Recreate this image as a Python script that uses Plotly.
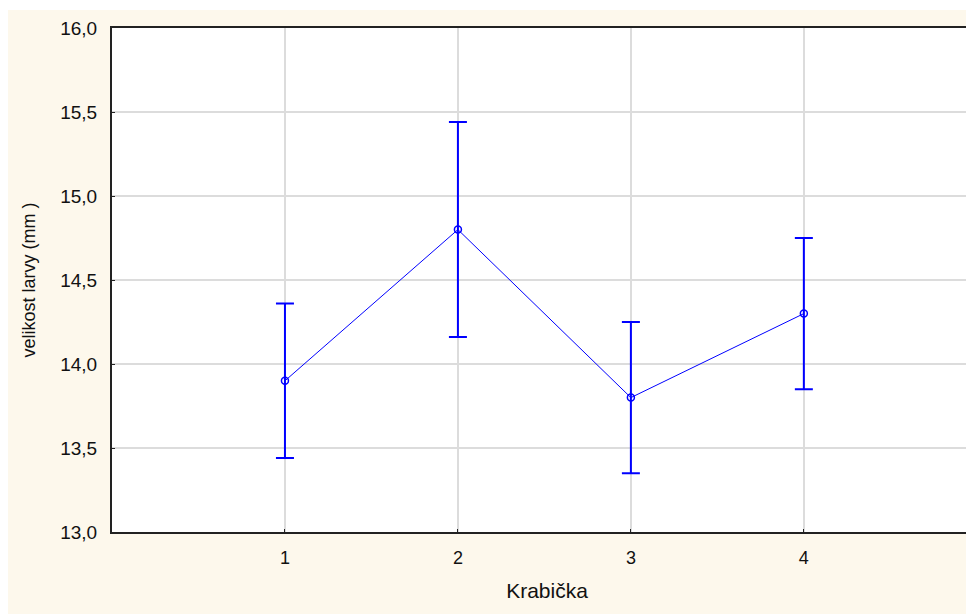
import plotly.graph_objects as go

categories = [1, 2, 3, 4]
means = [13.90, 14.80, 13.80, 14.30]
upper = [14.36, 15.44, 14.25, 14.75]
lower = [13.44, 14.16, 13.35, 13.85]
y_ticks = [13.0, 13.5, 14.0, 14.5, 15.0, 15.5, 16.0]
y_tick_labels = ["13,0", "13,5", "14,0", "14,5", "15,0", "15,5", "16,0"]
x_title = "Krabička"
y_title = "velikost larvy (mm )"

err_plus = [u - m for u, m in zip(upper, means)]
err_minus = [m - l for m, l in zip(means, lower)]

BLUE = "#0000FF"
CREAM = "#FDF8EC"

fig = go.Figure()
fig.add_trace(go.Scatter(
    x=categories, y=means, mode="lines+markers",
    line=dict(color=BLUE, width=1),
    marker=dict(symbol="circle-open", size=7, color=BLUE, line=dict(width=1.5, color=BLUE)),
    error_y=dict(type="data", symmetric=False, array=err_plus, arrayminus=err_minus,
                 color=BLUE, thickness=2, width=9),
    showlegend=False,
))

# page body adds an 8px offset; margins compensate so the plot lands where the reference has it
fig.update_layout(
    width=974, height=614,
    margin=dict(l=104, r=0, t=20, b=90),
    paper_bgcolor=CREAM, plot_bgcolor="white",
    font=dict(family="Liberation Sans, Arial", color="#111"),
    xaxis=dict(
        range=[0, 5.03], tickmode="array", tickvals=categories,
        ticktext=[str(c) for c in categories],
        showgrid=True, gridcolor="#DCDCDC", gridwidth=1.5,
        showline=True, linecolor="#222", linewidth=2, mirror=True,
        ticks="inside", ticklen=3, tickcolor="#222",
        tickfont=dict(size=18), zeroline=False, ticklabelstandoff=8,
        title=dict(text=x_title, font=dict(size=21), standoff=17),
    ),
    yaxis=dict(
        range=[13.0, 16.0], tickmode="array", tickvals=y_ticks, ticktext=y_tick_labels,
        showgrid=True, gridcolor="#DCDCDC", gridwidth=1.5,
        showline=True, linecolor="#222", linewidth=2, mirror=False,
        ticks="inside", ticklen=3, tickcolor="#222",
        tickfont=dict(size=19), zeroline=False, ticklabelstandoff=9,
        title=dict(text=y_title, font=dict(size=18), standoff=20),
    ),
    shapes=[
        dict(type="rect", xref="paper", yref="paper", x0=-0.2, x1=1.1,
             y0=(504 + 18) / 504, y1=1.2,
             fillcolor="white", line=dict(width=0), layer="below"),
    ],
)

fig.write_html("out.html")
